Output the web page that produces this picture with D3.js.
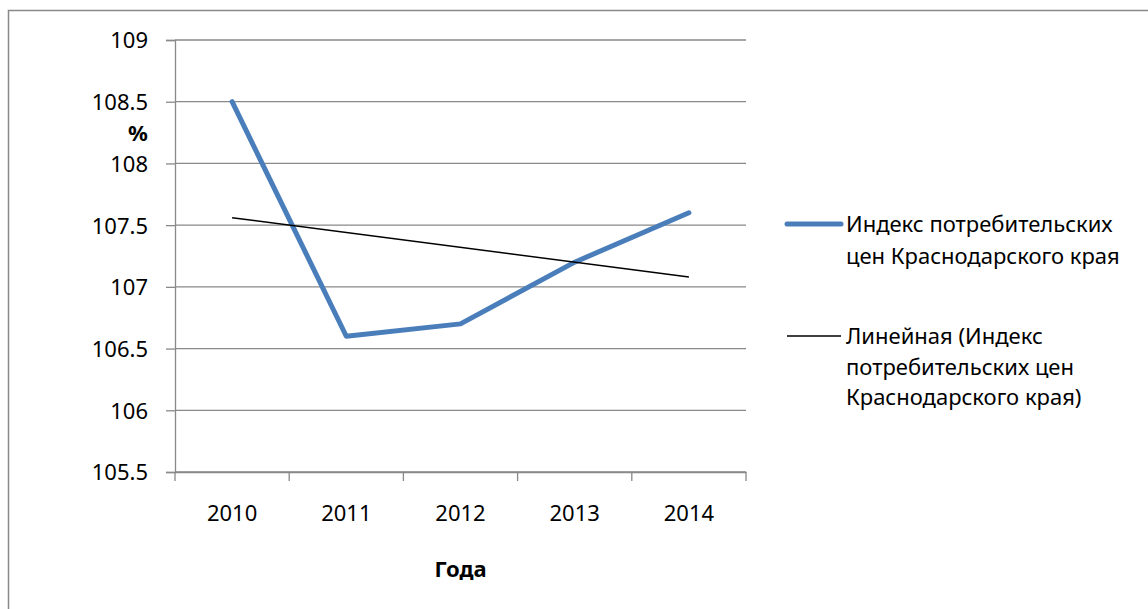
<!DOCTYPE html>
<html>
<head>
<meta charset="utf-8">
<script src="https://cdn.jsdelivr.net/npm/d3@7"></script>
<style>
  body { margin: 0; background: #fff; }
  text { font-family: "Noto Sans", "DejaVu Sans", sans-serif; fill: #000; }
</style>
</head>
<body>
<div id="chart"></div>
<script>
// data
var years = ["2010", "2011", "2012", "2013", "2014"];
var cpiValues = [108.5, 106.6, 106.7, 107.2, 107.6];
var trendValues = [107.56, 107.08]; // linear trend, first and last year
var yTicks = [105.5, 106, 106.5, 107, 107.5, 108, 108.5, 109];
var legendBlue = ["Индекс потребительских", "цен Краснодарского края"];
var legendBlack = ["Линейная (Индекс", "потребительских цен", "Краснодарского края)"];

var W = 1148, H = 609;
var plot = {left: 175, right: 746, top: 40, bottom: 472};
var fontSize = 22;

var svg = d3.select("#chart")
  .append("svg")
    .attr("width", W)
    .attr("height", H);

// outer chart border (cut off at right and bottom)
svg.append("rect")
  .attr("x", 8.5).attr("y", 10.5)
  .attr("width", 1200).attr("height", 700)
  .attr("fill", "none")
  .attr("stroke", "#898989")
  .attr("stroke-width", 1.5);

var x = d3.scaleBand()
  .domain(years)
  .range([plot.left, plot.right])
  .padding(0);

var y = d3.scaleLinear()
  .domain([105.5, 109])
  .range([plot.bottom, plot.top]);

var cx = function(d) { return x(d) + x.bandwidth() / 2; };

// horizontal gridlines
svg.append("g")
  .selectAll("line")
  .data(yTicks)
  .enter().append("line")
    .attr("x1", plot.left).attr("x2", plot.right)
    .attr("y1", function(d) { return y(d); })
    .attr("y2", function(d) { return y(d); })
    .attr("stroke", "#898989")
    .attr("stroke-width", 1.3);

// y axis
var yAxis = svg.append("g")
  .attr("transform", "translate(" + plot.left + ",0)")
  .call(d3.axisLeft(y).tickValues(yTicks).tickSize(9).tickPadding(18)
    .tickFormat(function(d) { return d; }));
yAxis.select(".domain").attr("stroke", "#898989").attr("stroke-width", 1.3);
yAxis.selectAll(".tick line").attr("stroke", "#898989").attr("stroke-width", 1.3);
yAxis.selectAll(".tick text")
  .attr("font-size", fontSize)
  .attr("font-family", "Noto Sans")
  .attr("fill", "#000")
  .attr("dy", "0.36em");

// x axis: labels centred in bands, ticks on band boundaries
var xAxis = svg.append("g")
  .attr("transform", "translate(0," + plot.bottom + ")")
  .call(d3.axisBottom(x).tickSize(0).tickPadding(33));
xAxis.select(".domain").attr("stroke", "#898989").attr("stroke-width", 1.3);
xAxis.selectAll(".tick text")
  .attr("font-size", fontSize)
  .attr("font-family", "Noto Sans")
  .attr("fill", "#000");

var bounds = years.map(function(d) { return x(d); }).concat([plot.right]);
xAxis.selectAll(".bound")
  .data(bounds)
  .enter().append("line")
    .attr("class", "bound")
    .attr("x1", function(d) { return d; }).attr("x2", function(d) { return d; })
    .attr("y1", 0).attr("y2", 9)
    .attr("stroke", "#898989")
    .attr("stroke-width", 1.3);

// axis titles
svg.append("text")
  .attr("x", 138).attr("y", 141)
  .attr("text-anchor", "middle")
  .attr("font-size", fontSize)
  .attr("font-weight", "bold")
  .text("%");

svg.append("text")
  .attr("x", (plot.left + plot.right) / 2).attr("y", 577)
  .attr("text-anchor", "middle")
  .attr("font-size", fontSize)
  .attr("font-weight", "bold")
  .text("Года");

// series line
var series = years.map(function(d, i) { return {year: d, value: cpiValues[i]}; });
svg.append("path")
  .datum(series)
  .attr("fill", "none")
  .attr("stroke", "#4A7EBB")
  .attr("stroke-width", 5)
  .attr("stroke-linejoin", "round")
  .attr("stroke-linecap", "round")
  .attr("d", d3.line()
    .x(function(d) { return cx(d.year); })
    .y(function(d) { return y(d.value); }));

// linear trend line
var trend = [
  {year: years[0], value: trendValues[0]},
  {year: years[years.length - 1], value: trendValues[1]}
];
svg.append("path")
  .datum(trend)
  .attr("fill", "none")
  .attr("stroke", "#000")
  .attr("stroke-width", 1.5)
  .attr("d", d3.line()
    .x(function(d) { return cx(d.year); })
    .y(function(d) { return y(d.value); }));

// legend
var legend = svg.append("g");
legend.append("line")
  .attr("x1", 787).attr("x2", 841)
  .attr("y1", 224).attr("y2", 224)
  .attr("stroke", "#4A7EBB")
  .attr("stroke-width", 5)
  .attr("stroke-linecap", "round");
legend.selectAll(".lb")
  .data(legendBlue)
  .enter().append("text")
    .attr("class", "lb")
    .attr("x", 846)
    .attr("y", function(d, i) { return 232 + i * 32; })
    .attr("font-size", fontSize)
    .text(function(d) { return d; });

legend.append("line")
  .attr("x1", 787).attr("x2", 841)
  .attr("y1", 336).attr("y2", 336)
  .attr("stroke", "#000")
  .attr("stroke-width", 1.5);
legend.selectAll(".lk")
  .data(legendBlack)
  .enter().append("text")
    .attr("class", "lk")
    .attr("x", 846)
    .attr("y", function(d, i) { return 344 + i * 30.5; })
    .attr("font-size", fontSize)
    .text(function(d) { return d; });
</script>
</body>
</html>
